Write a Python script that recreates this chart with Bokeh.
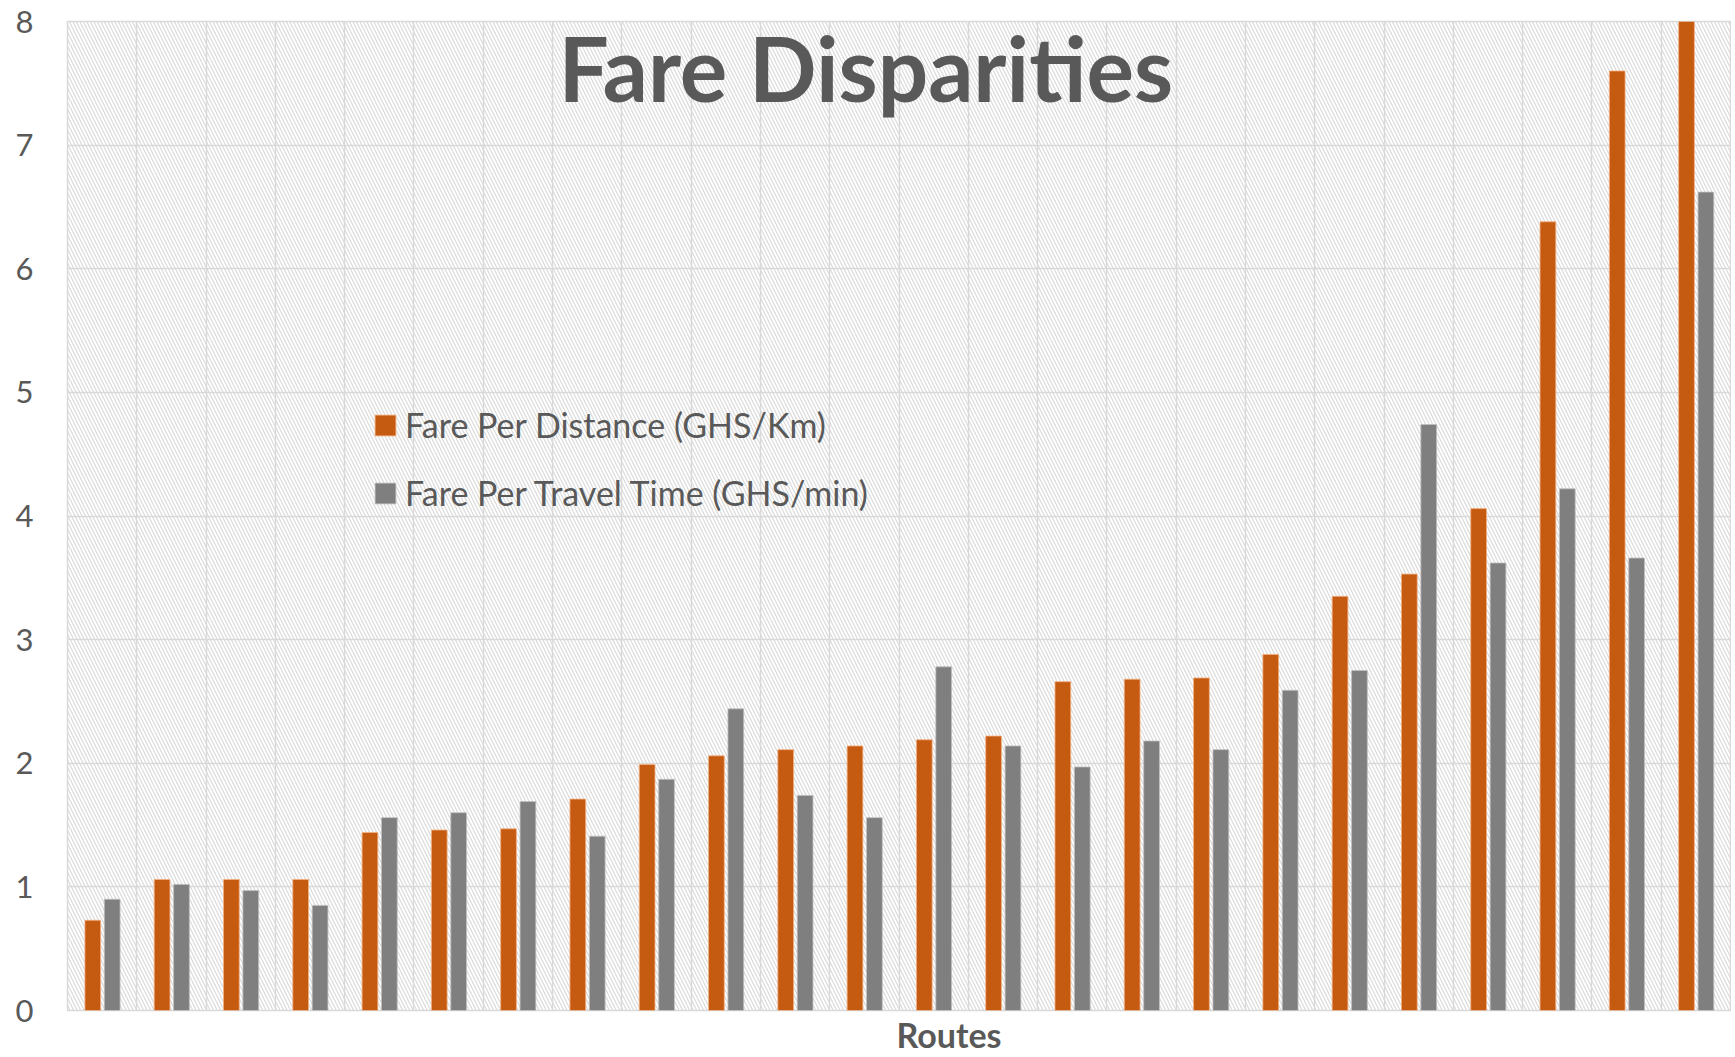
from bokeh.plotting import figure
from bokeh.models import (ColumnDataSource, Range1d, FixedTicker, Label, Legend,
                          LegendItem, BoxAnnotation, Title)
from bokeh.embed import file_html
from bokeh.resources import INLINE

# ---- data ----
fare_per_distance = [0.73, 1.06, 1.06, 1.06, 1.44, 1.46, 1.47, 1.71, 1.99, 2.06,
                     2.11, 2.14, 2.19, 2.22, 2.66, 2.68, 2.69, 2.88, 3.35, 3.53,
                     4.06, 6.38, 7.60, 8.00]
fare_per_time = [0.90, 1.02, 0.97, 0.85, 1.56, 1.60, 1.69, 1.41, 1.87, 2.44,
                 1.74, 1.56, 2.78, 2.14, 1.97, 2.18, 2.11, 2.59, 2.75, 4.74,
                 3.62, 4.22, 3.66, 6.62]
y_ticks = [0, 1, 2, 3, 4, 5, 6, 7, 8]
series_names = ["Fare Per Distance (GHS/Km)", "Fare Per Travel Time (GHS/min)"]
title_text = "Fare Disparities"
x_title = "Routes"

n = len(fare_per_distance)
idx = list(range(n))
src = ColumnDataSource(dict(
    xd=[i + 0.5 - 0.135 for i in idx],
    xt=[i + 0.5 + 0.145 for i in idx],
    dist=fare_per_distance,
    time=fare_per_time,
))

TXT = "#595959"
GRID = "#d9d9d9"

p = figure(width=1731, height=1055, output_backend="svg", toolbar_location=None,
           x_range=Range1d(0, n), y_range=Range1d(y_ticks[0], y_ticks[-1]),
           min_border_left=67, min_border_right=1, min_border_top=21,
           min_border_bottom=42)

p.background_fill_color = "white"
p.border_fill_color = "white"
p.outline_line_color = GRID
p.outline_line_width = 1.5

# hatched plot-area background
p.add_layout(BoxAnnotation(fill_alpha=0, line_alpha=0, hatch_pattern="\\",
                           hatch_color="#dadada", hatch_scale=7, hatch_weight=1.2,
                           level="image"))

p.xaxis.visible = False

p.xgrid.ticker = FixedTicker(ticks=list(range(n + 1)))
p.xgrid.grid_line_color = GRID
p.xgrid.grid_line_width = 1.5
p.ygrid.ticker = FixedTicker(ticks=y_ticks)
p.ygrid.grid_line_color = GRID
p.ygrid.grid_line_width = 1.5

ya = p.yaxis[0]
ya.ticker = FixedTicker(ticks=y_ticks)
ya.axis_line_color = None
ya.major_tick_line_color = None
ya.minor_tick_line_color = None
ya.major_label_standoff = 28
ya.major_label_text_font = "Lato"
ya.major_label_text_font_size = "31px"
ya.major_label_text_color = TXT

r1 = p.vbar(x="xd", top="dist", width=0.227, source=src, fill_color="#C55A11",
            line_color="#f4b183", line_width=0.8)
r2 = p.vbar(x="xt", top="time", width=0.227, source=src, fill_color="#7F7F7F",
            line_color="#bfbfbf", line_width=0.8)

legend = Legend(items=[LegendItem(label=series_names[0], renderers=[r1]),
                       LegendItem(label=series_names[1], renderers=[r2])],
                location=(305, 497), orientation="vertical",
                glyph_width=26, glyph_height=26, label_height=26,
                label_standoff=7, spacing=27, padding=0, margin=0,
                background_fill_alpha=0, border_line_alpha=0,
                label_text_font="Lato", label_text_font_size="34px",
                label_text_color=TXT)
p.add_layout(legend)

p.add_layout(Label(x=11.52, y=7.63, text=title_text, text_align="center",
                   text_baseline="alphabetic", text_font="Lato",
                   text_font_style="bold", text_font_size="89px",
                   text_color=TXT))

p.add_layout(Title(text=x_title, align="left", offset=829, standoff=2,
                   text_font="Lato", text_font_style="bold",
                   text_font_size="34px", text_color=TXT), "below")

open("out.html", "w").write(file_html(p, INLINE))
